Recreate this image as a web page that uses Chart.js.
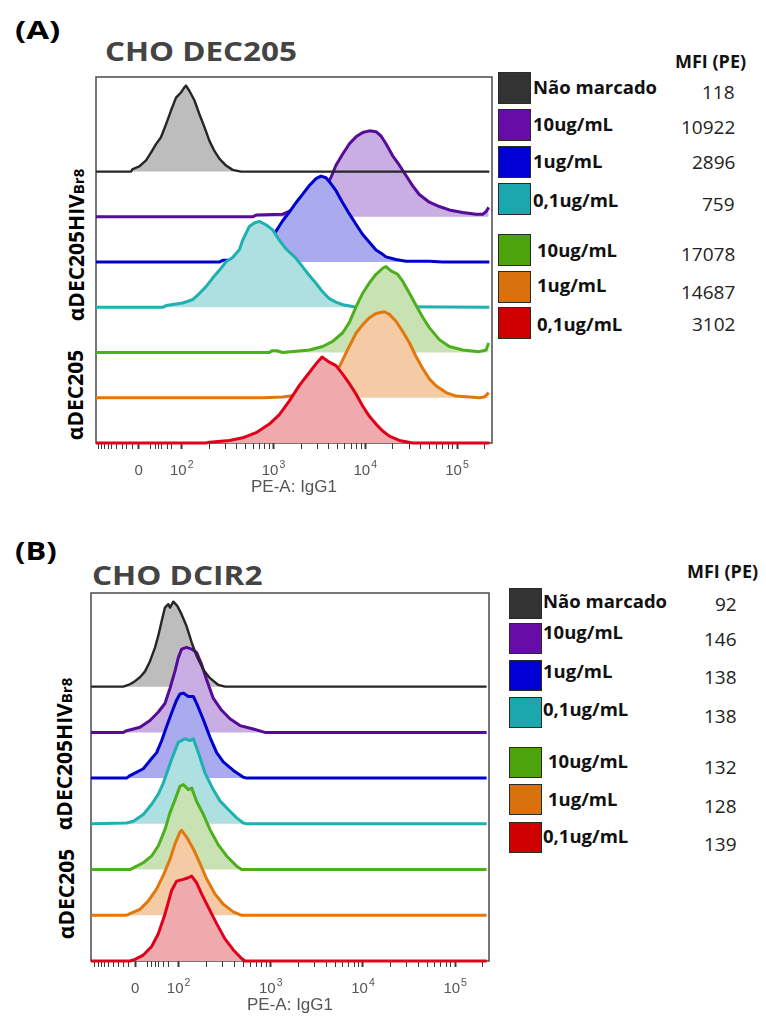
<!DOCTYPE html>
<html>
<head>
<meta charset="utf-8">
<script src="https://cdn.jsdelivr.net/npm/chart.js"></script>
<style>
	body { margin: 0; background: #fff; }
	#page { position: relative; width: 766px; height: 1019px; overflow: hidden; font-family: 'Open Sans', sans-serif; }
	.t { position: absolute; white-space: nowrap; line-height: 1; }
	.sw { position: absolute; box-sizing: border-box; border: 1px solid #2a2a2a; }
	canvas { position: absolute; }
</style>
</head>
<body>
<div id="page"></div>
<script>
// Offset flow-cytometry histograms (FlowJo style), two panels.
// x values are in display decades (biexponential axis, 10^2 at 2, 10^3 at 3 ...),
// y values are % of mode for each histogram.

const ROW_LABELS = ['Não marcado', '10ug/mL', '1ug/mL', '0,1ug/mL', '10ug/mL', '1ug/mL', '0,1ug/mL'];
const MFI_A = ['118', '10922', '2896', '759', '17078', '14687', '3102'];
const MFI_B = ['92', '146', '138', '138', '132', '128', '139'];

const TICK_BASE = ['0', '10', '10', '10', '10'];
const TICK_EXP = ['', '2', '3', '4', '5'];
const TICK_LABEL_POS = [1.53, 2, 3, 4, 5];
const LOW_TICK_POS = [1.09, 1.13, 1.16, 1.20, 1.24, 1.29, 1.35, 1.40, 1.46, 1.66, 1.71, 1.75, 1.78, 1.84, 1.89];

// Panel A - CHO DEC205
const A_UNSTAINED = [[1.066,0],[1.447,0],[1.466,3],[1.538,6],[1.611,13],[1.665,22],[1.720,32],[1.774,40],[1.829,55],[1.883,71],[1.938,86],[1.992,92],[2.029,98],[2.047,100],[2.083,94],[2.138,83],[2.192,67],[2.247,52],[2.301,36],[2.356,24],[2.410,15],[2.483,7],[2.555,2],[2.646,0],[5.352,0]];
const A_HIV_10 = [[1.066,0],[2.773,0],[2.810,2],[3.100,3],[3.427,18],[3.572,36],[3.627,46],[3.681,60],[3.754,73],[3.827,85],[3.899,93],[3.972,98],[4.045,100],[4.117,99],[4.172,94],[4.226,85],[4.299,71],[4.372,60],[4.444,48],[4.517,36],[4.589,26],[4.698,17],[4.807,12],[4.916,8],[5.062,5],[5.207,3],[5.280,3],[5.316,6],[5.345,11]];
const A_HIV_1 = [[1.066,0],[2.410,0],[2.446,2],[2.555,2],[2.664,8],[2.810,16],[2.955,28],[3.028,36],[3.100,48],[3.173,58],[3.245,69],[3.318,79],[3.391,89],[3.463,97],[3.518,100],[3.572,98],[3.627,91],[3.681,83],[3.754,69],[3.827,56],[3.899,44],[3.972,32],[4.045,23],[4.117,14],[4.190,9],[4.226,6],[4.335,3],[4.444,1],[4.698,1],[4.844,0],[5.352,0]];
const A_HIV_01 = [[1.066,0],[1.793,0],[1.829,2],[2.010,5],[2.119,9],[2.192,16],[2.265,24],[2.337,34],[2.410,43],[2.483,53],[2.555,58],[2.628,67],[2.664,78],[2.737,94],[2.791,98],[2.846,100],[2.918,96],[2.991,90],[3.064,78],[3.136,68],[3.245,57],[3.318,47],[3.391,37],[3.463,28],[3.536,18],[3.609,10],[3.681,6],[3.754,3],[3.863,1],[5.352,0]];
const A_DEC_10 = [[1.066,0],[2.955,0],[2.982,2],[3.036,2],[3.100,0],[3.391,3],[3.536,7],[3.645,13],[3.754,23],[3.827,35],[3.899,53],[3.972,69],[4.045,81],[4.117,91],[4.190,98],[4.226,100],[4.281,95],[4.353,91],[4.408,83],[4.481,69],[4.553,55],[4.626,41],[4.698,29],[4.807,15],[4.916,7],[5.062,3],[5.243,1],[5.316,3],[5.345,11]];
const A_DEC_1 = [[1.066,0],[2.882,0],[3.100,1],[3.318,4],[3.536,10],[3.609,15],[3.681,28],[3.754,44],[3.827,60],[3.899,75],[3.972,85],[4.045,93],[4.117,98],[4.208,100],[4.263,97],[4.335,89],[4.408,77],[4.481,64],[4.553,48],[4.626,34],[4.698,22],[4.771,14],[4.880,6],[4.989,2],[5.243,0],[5.298,1],[5.345,6]];
const A_DEC_01 = [[1.066,0],[2.265,0],[2.301,1],[2.519,3],[2.664,6],[2.810,12],[2.955,22],[3.064,33],[3.173,49],[3.282,67],[3.391,82],[3.463,92],[3.529,100],[3.609,94],[3.681,90],[3.754,80],[3.827,69],[3.899,57],[3.972,43],[4.045,31],[4.117,22],[4.190,14],[4.263,8],[4.372,3],[4.517,0],[5.352,0]];

// Panel B - CHO DCIR2
const B_UNSTAINED = [[1.050,0],[1.401,0],[1.455,2],[1.509,5],[1.581,11],[1.636,18],[1.690,30],[1.744,46],[1.780,60],[1.816,77],[1.852,93],[1.889,97],[1.907,93],[1.943,100],[1.986,95],[2.033,85],[2.087,71],[2.142,52],[2.196,36],[2.268,20],[2.341,10],[2.431,2],[2.503,0],[5.341,0]];
const B_HIV_10 = [[1.050,0],[1.401,0],[1.437,2],[1.581,6],[1.690,14],[1.780,24],[1.852,34],[1.907,52],[1.961,72],[1.997,88],[2.033,98],[2.087,100],[2.142,98],[2.196,94],[2.250,80],[2.304,62],[2.377,40],[2.467,26],[2.557,16],[2.666,8],[2.810,4],[2.937,0],[5.341,0]];
const B_HIV_1 = [[1.050,0],[1.437,0],[1.473,3],[1.617,11],[1.708,23],[1.762,30],[1.816,44],[1.871,61],[1.925,77],[1.979,92],[2.015,99],[2.051,100],[2.106,96],[2.160,96],[2.196,88],[2.268,69],[2.341,48],[2.413,30],[2.485,19],[2.594,9],[2.702,1],[2.738,0],[5.341,0]];
const B_HIV_01 = [[1.050,0],[1.437,1],[1.509,3],[1.617,11],[1.708,23],[1.780,35],[1.834,48],[1.925,76],[1.997,96],[2.069,100],[2.124,98],[2.160,100],[2.214,84],[2.286,60],[2.377,40],[2.449,27],[2.521,19],[2.630,7],[2.702,1],[2.738,0],[5.341,0]];
const B_DEC_10 = [[1.050,0],[1.473,0],[1.509,2],[1.617,8],[1.708,16],[1.780,28],[1.852,47],[1.907,67],[1.961,82],[2.015,98],[2.051,100],[2.106,94],[2.142,96],[2.196,80],[2.268,65],[2.341,47],[2.431,29],[2.521,16],[2.630,4],[2.684,0],[5.341,0]];
const B_DEC_1 = [[1.050,0],[1.437,0],[1.473,2],[1.581,7],[1.672,17],[1.762,31],[1.834,47],[1.907,66],[1.961,84],[2.015,98],[2.033,100],[2.087,92],[2.160,78],[2.232,61],[2.304,43],[2.395,25],[2.485,13],[2.594,4],[2.684,0],[5.341,0]];
const B_DEC_01 = [[1.050,0],[1.473,0],[1.527,2],[1.617,7],[1.708,17],[1.780,32],[1.852,55],[1.925,83],[1.979,94],[2.051,96],[2.106,98],[2.142,100],[2.196,92],[2.250,79],[2.323,63],[2.413,44],[2.503,26],[2.594,13],[2.684,3],[2.720,0],[5.341,0]];

const LINE_COLORS = ['#262626', '#560c98', '#0000cc', '#1fb0b0', '#4caf1c', '#e0780e', '#e0001a'];
const FILL_COLORS = ['#bdbdbd', '#c9aee3', '#aaaaee', '#aee0e1', '#c9e2b3', '#f5cba6', '#eeaaac'];
const SWATCH_COLORS = ['#333333', '#680ca8', '#0000d4', '#1aa8ae', '#4ca40c', '#d8700c', '#d00000'];

const AXIS_H = 56;
const PAD = 4;
const AXIS_FONT = '"Liberation Sans", Arial, sans-serif';

const page = document.getElementById('page');

function addText(str, x, cy, fs, opts = {}) {
	const el = document.createElement('div');
	el.className = 't';
	el.innerHTML = str;
	el.style.fontSize = fs + 'px';
	el.style.fontWeight = opts.bold ? '700' : '400';
	el.style.color = opts.color || '#111';
	el.style.top = (cy - 0.55 * fs) + 'px';
	page.appendChild(el);
	if (opts.alignRight) el.style.left = (x - el.offsetWidth) + 'px';
	else el.style.left = x + 'px';
	if (opts.fitWidth) {
		const k = opts.fitWidth / el.offsetWidth;
		el.style.transformOrigin = 'left center';
		el.style.transform = 'scaleX(' + k + ')';
	}
	return el;
}

function addRotated(html, cx, cy, fs) {
	const el = document.createElement('div');
	el.className = 't';
	el.innerHTML = html;
	el.style.fontSize = fs + 'px';
	el.style.fontWeight = '700';
	el.style.color = '#000';
	el.style.left = cx + 'px';
	el.style.top = cy + 'px';
	el.style.transform = 'translate(-50%,-50%) rotate(-90deg)';
	page.appendChild(el);
}

function addLegend(cfg, mfi) {
	cfg.swatchTops.forEach((top, i) => {
		const sw = document.createElement('div');
		sw.className = 'sw';
		sw.style.left = cfg.swatchX + 'px';
		sw.style.top = top + 'px';
		sw.style.width = cfg.swatchW + 'px';
		sw.style.height = cfg.swatchH + 'px';
		sw.style.background = SWATCH_COLORS[i];
		page.appendChild(sw);
		addText(ROW_LABELS[i], cfg.labelX[i], cfg.labelCY[i], 18.5, { bold: true });
		addText(mfi[i], cfg.mfiRight, cfg.mfiCY[i], 19, { alignRight: true, color: '#222' });
	});
	addText('MFI (PE)', cfg.headX, cfg.headCY, 18, { bold: true });
}

const frameBox = {
	id: 'frameBox',
	beforeDatasetsDraw(chart) {
		const { ctx, chartArea: a } = chart;
		ctx.save();
		ctx.strokeStyle = '#4a4a4a';
		ctx.lineWidth = 1.5;
		ctx.strokeRect(a.left, a.top, a.width, a.height);
		ctx.restore();
	},
};

// "10" with a raised exponent, placed at each labelled tick of the x scale
const powerLabels = {
	id: 'powerLabels',
	afterDraw(chart) {
		const { ctx, chartArea: a } = chart;
		const sx = chart.scales.x;
		const y = a.bottom + 32;
		ctx.save();
		ctx.fillStyle = '#555';
		ctx.textBaseline = 'alphabetic';
		ctx.textAlign = 'left';
		TICK_LABEL_POS.forEach((v, i) => {
			const px = sx.getPixelForValue(v);
			ctx.font = '15px ' + AXIS_FONT;
			const wb = ctx.measureText(TICK_BASE[i]).width;
			ctx.font = '10.5px ' + AXIS_FONT;
			const we = TICK_EXP[i] ? ctx.measureText(TICK_EXP[i]).width + 1 : 0;
			const x0 = px - (wb + we) / 2;
			ctx.font = '15px ' + AXIS_FONT;
			ctx.fillText(TICK_BASE[i], x0, y);
			if (TICK_EXP[i]) {
				ctx.font = '10.5px ' + AXIS_FONT;
				ctx.fillText(TICK_EXP[i], x0 + wb + 1, y - 7);
			}
		});
		ctx.restore();
	},
};

function isLabelled(v) {
	return TICK_LABEL_POS.some(p => Math.abs(p - v) < 1e-6);
}

function allTicks() {
	const t = LOW_TICK_POS.concat(TICK_LABEL_POS);
	for (let k = 2; k <= 4; k++) {
		for (let m = 2; m <= 9; m++) t.push(k + Math.log10(m));
	}
	t.push(5 + Math.log10(2));
	return t.sort((a, b) => a - b);
}

function makeChart(p) {
	const cv = document.createElement('canvas');
	const w = p.box.width + 2 * PAD;
	const h = p.box.height + PAD + AXIS_H;
	cv.width = w; cv.height = h;
	cv.style.left = (p.box.left - PAD) + 'px';
	cv.style.top = (p.box.top - PAD) + 'px';
	cv.style.width = w + 'px'; cv.style.height = h + 'px';
	page.appendChild(cv);

	const datasets = [];
	p.series.forEach((s, i) => {
		const base = (6 - i) * p.step;
		const pts = s.map(([x, y]) => ({ x, y: base + y }));
		const common = { data: pts, pointRadius: 0, tension: 0, clip: 4, borderJoinStyle: 'round' };
		if (i === 0) {
			// unstained: fill sits behind everything, its outline on top
			datasets.push({ ...common, order: 20, borderWidth: 0, borderColor: 'rgba(0,0,0,0)', backgroundColor: FILL_COLORS[0], fill: { value: base } });
			datasets.push({ ...common, order: 0, borderWidth: 2.4, borderColor: LINE_COLORS[0], fill: false });
		} else {
			datasets.push({ ...common, order: 7 - i, borderWidth: 3, borderColor: LINE_COLORS[i], backgroundColor: FILL_COLORS[i], fill: { value: base } });
		}
	});

	const ticks = allTicks();
	new Chart(cv, {
		type: 'line',
		data: { datasets },
		plugins: [frameBox, powerLabels],
		options: {
			responsive: false,
			animation: false,
			layout: { padding: { left: PAD, right: PAD, top: PAD, bottom: 0 } },
			plugins: { legend: { display: false }, tooltip: { enabled: false } },
			scales: {
				x: {
					type: 'linear', min: p.xMin, max: p.xMax,
					afterBuildTicks(ax) { ax.ticks = ticks.map(v => ({ value: v })); },
					afterFit(ax) { ax.height = AXIS_H; },
					ticks: { autoSkip: false, maxRotation: 0, minRotation: 0, callback: () => '' },
					grid: {
						drawOnChartArea: false, tickLength: 6, tickColor: '#3a3a3a',
						tickWidth: ctx => (ctx.tick && isLabelled(ctx.tick.value) ? 2 : 1),
					},
					border: { display: false },
					title: {
						display: true, text: 'PE-A: IgG1', color: '#555',
						font: { family: AXIS_FONT, size: 17 },
						padding: { top: 0, bottom: 1 },
					},
				},
				y: { display: false, min: 0, max: p.yMax },
			},
		},
	});
}

// Panel A
addText('(A)', 15, 31, 25, { bold: true, color: '#000', fitWidth: 45 });
addText('CHO DEC205', 105, 52, 27, { bold: true, color: '#444', fitWidth: 192 });
addRotated('αDEC205HIV<span style="font-size:15px">Br8</span>', 76, 245, 21);
addRotated('αDEC205', 75, 395, 21);
makeChart({
	series: [A_UNSTAINED, A_HIV_10, A_HIV_1, A_HIV_01, A_DEC_10, A_DEC_1, A_DEC_01],
	xMin: 1.066, xMax: 5.381, yMax: 425.6, step: 52.6,
	box: { left: 96, top: 77, width: 396, height: 366 },
});
addLegend({
	swatchX: 498, swatchW: 33, swatchH: 32,
	swatchTops: [72, 109, 146, 183, 234, 271, 307],
	labelX: [533, 533, 533, 533, 537, 537, 537],
	labelCY: [88, 125, 162, 201, 251, 286, 325],
	mfiRight: 735, mfiCY: [93, 128, 163, 205, 255, 293, 325],
	headX: 675, headCY: 62,
}, MFI_A);

// Panel B
addText('(B)', 15, 552, 25, { bold: true, color: '#000', fitWidth: 42 });
addText('CHO DCIR2', 92, 576, 26, { bold: true, color: '#444', fitWidth: 170 });
addRotated('αDEC205HIV<span style="font-size:15px">Br8</span>', 64, 754, 21);
addRotated('αDEC205', 66, 894, 21);
makeChart({
	series: [B_UNSTAINED, B_HIV_10, B_HIV_1, B_HIV_01, B_DEC_10, B_DEC_1, B_DEC_01],
	xMin: 1.050, xMax: 5.367, yMax: 433, step: 53.8,
	box: { left: 91, top: 593, width: 398, height: 368 },
});
addLegend({
	swatchX: 509, swatchW: 33, swatchH: 31,
	swatchTops: [588, 623, 660, 697, 747, 784, 822],
	labelX: [543, 543, 543, 543, 548, 548, 543],
	labelCY: [602, 633, 672, 710, 762, 800, 837],
	mfiRight: 737, mfiCY: [605, 640, 678, 717, 768, 807, 845],
	headX: 687, headCY: 572,
}, MFI_B);
</script>
</body>
</html>
